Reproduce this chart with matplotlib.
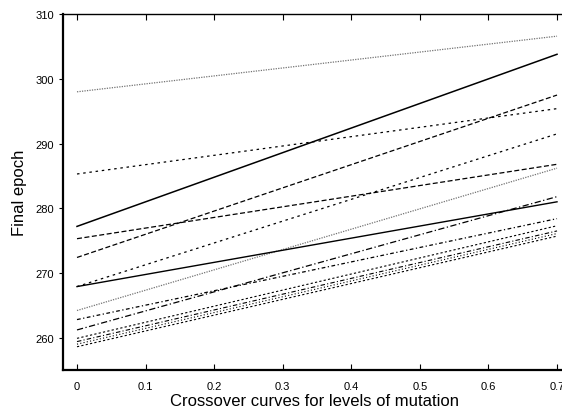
import matplotlib
matplotlib.use("Agg")
import matplotlib.pyplot as plt

plt.rcParams["font.family"] = ["Liberation Sans", "DejaVu Sans"]

# mutation levels on the x axis
mutation = [0.0, 0.7]

# final epoch at x=0 and x=0.7 for each crossover curve
start_epoch = [298.0, 277.2, 285.3, 272.4, 267.9, 275.3, 264.2,
               267.9, 261.2, 262.8, 259.9, 259.4, 259.0, 258.6]
end_epoch = [306.6, 303.8, 295.4, 297.5, 291.5, 286.8, 286.2,
             281.0, 281.8, 278.4, 277.3, 276.5, 276.1, 275.7]

styles = [
    ("0.45", (0, (1, 1)), 0.9),
    ("black", "-", 1.1),
    ("black", (0, (2, 3)), 0.9),
    ("black", (0, (4, 2)), 0.9),
    ("black", (0, (2, 3)), 0.9),
    ("black", (0, (4, 2)), 0.9),
    ("0.45", (0, (1, 1)), 0.9),
    ("black", "-", 1.0),
    ("black", (0, (5, 2, 1, 2)), 0.9),
    ("black", (0, (3, 2, 1, 2)), 0.9),
    ("black", (0, (2, 2)), 0.8),
    ("black", (0, (4, 2, 1, 2)), 0.8),
    ("black", (0, (1, 2)), 0.8),
    ("black", (0, (2, 2)), 0.8),
]

fig = plt.figure(figsize=(5.62, 4.10), dpi=100)
ax = fig.add_axes([0.112, 0.095, 0.895, 0.868])

for y0, y1, (color, ls, lw) in zip(start_epoch, end_epoch, styles):
    ax.plot(mutation, [y0, y1], color=color, linestyle=ls, linewidth=lw)

ax.set_xlim(-0.0205, 0.713)
ax.set_ylim(255, 310)
ax.set_xticks([0, 0.1, 0.2, 0.3, 0.4, 0.5, 0.6, 0.7])
ax.set_xticklabels(["0", "0.1", "0.2", "0.3", "0.4", "0.5", "0.6", "0.7"])
ax.set_yticks([260, 270, 280, 290, 300, 310])

ax.tick_params(axis="x", direction="in", top=True, length=4, labelsize=8, pad=8)
ax.tick_params(axis="y", direction="out", length=3, labelsize=8)

ax.spines["right"].set_visible(False)
ax.spines["left"].set_linewidth(1.6)
ax.spines["bottom"].set_linewidth(1.6)
ax.spines["top"].set_linewidth(1.0)

ax.set_xlabel("Crossover curves for levels of mutation", fontsize=12, labelpad=1)
ax.set_ylabel("Final epoch", fontsize=12, labelpad=6)

fig.savefig("out.png", dpi=100)
